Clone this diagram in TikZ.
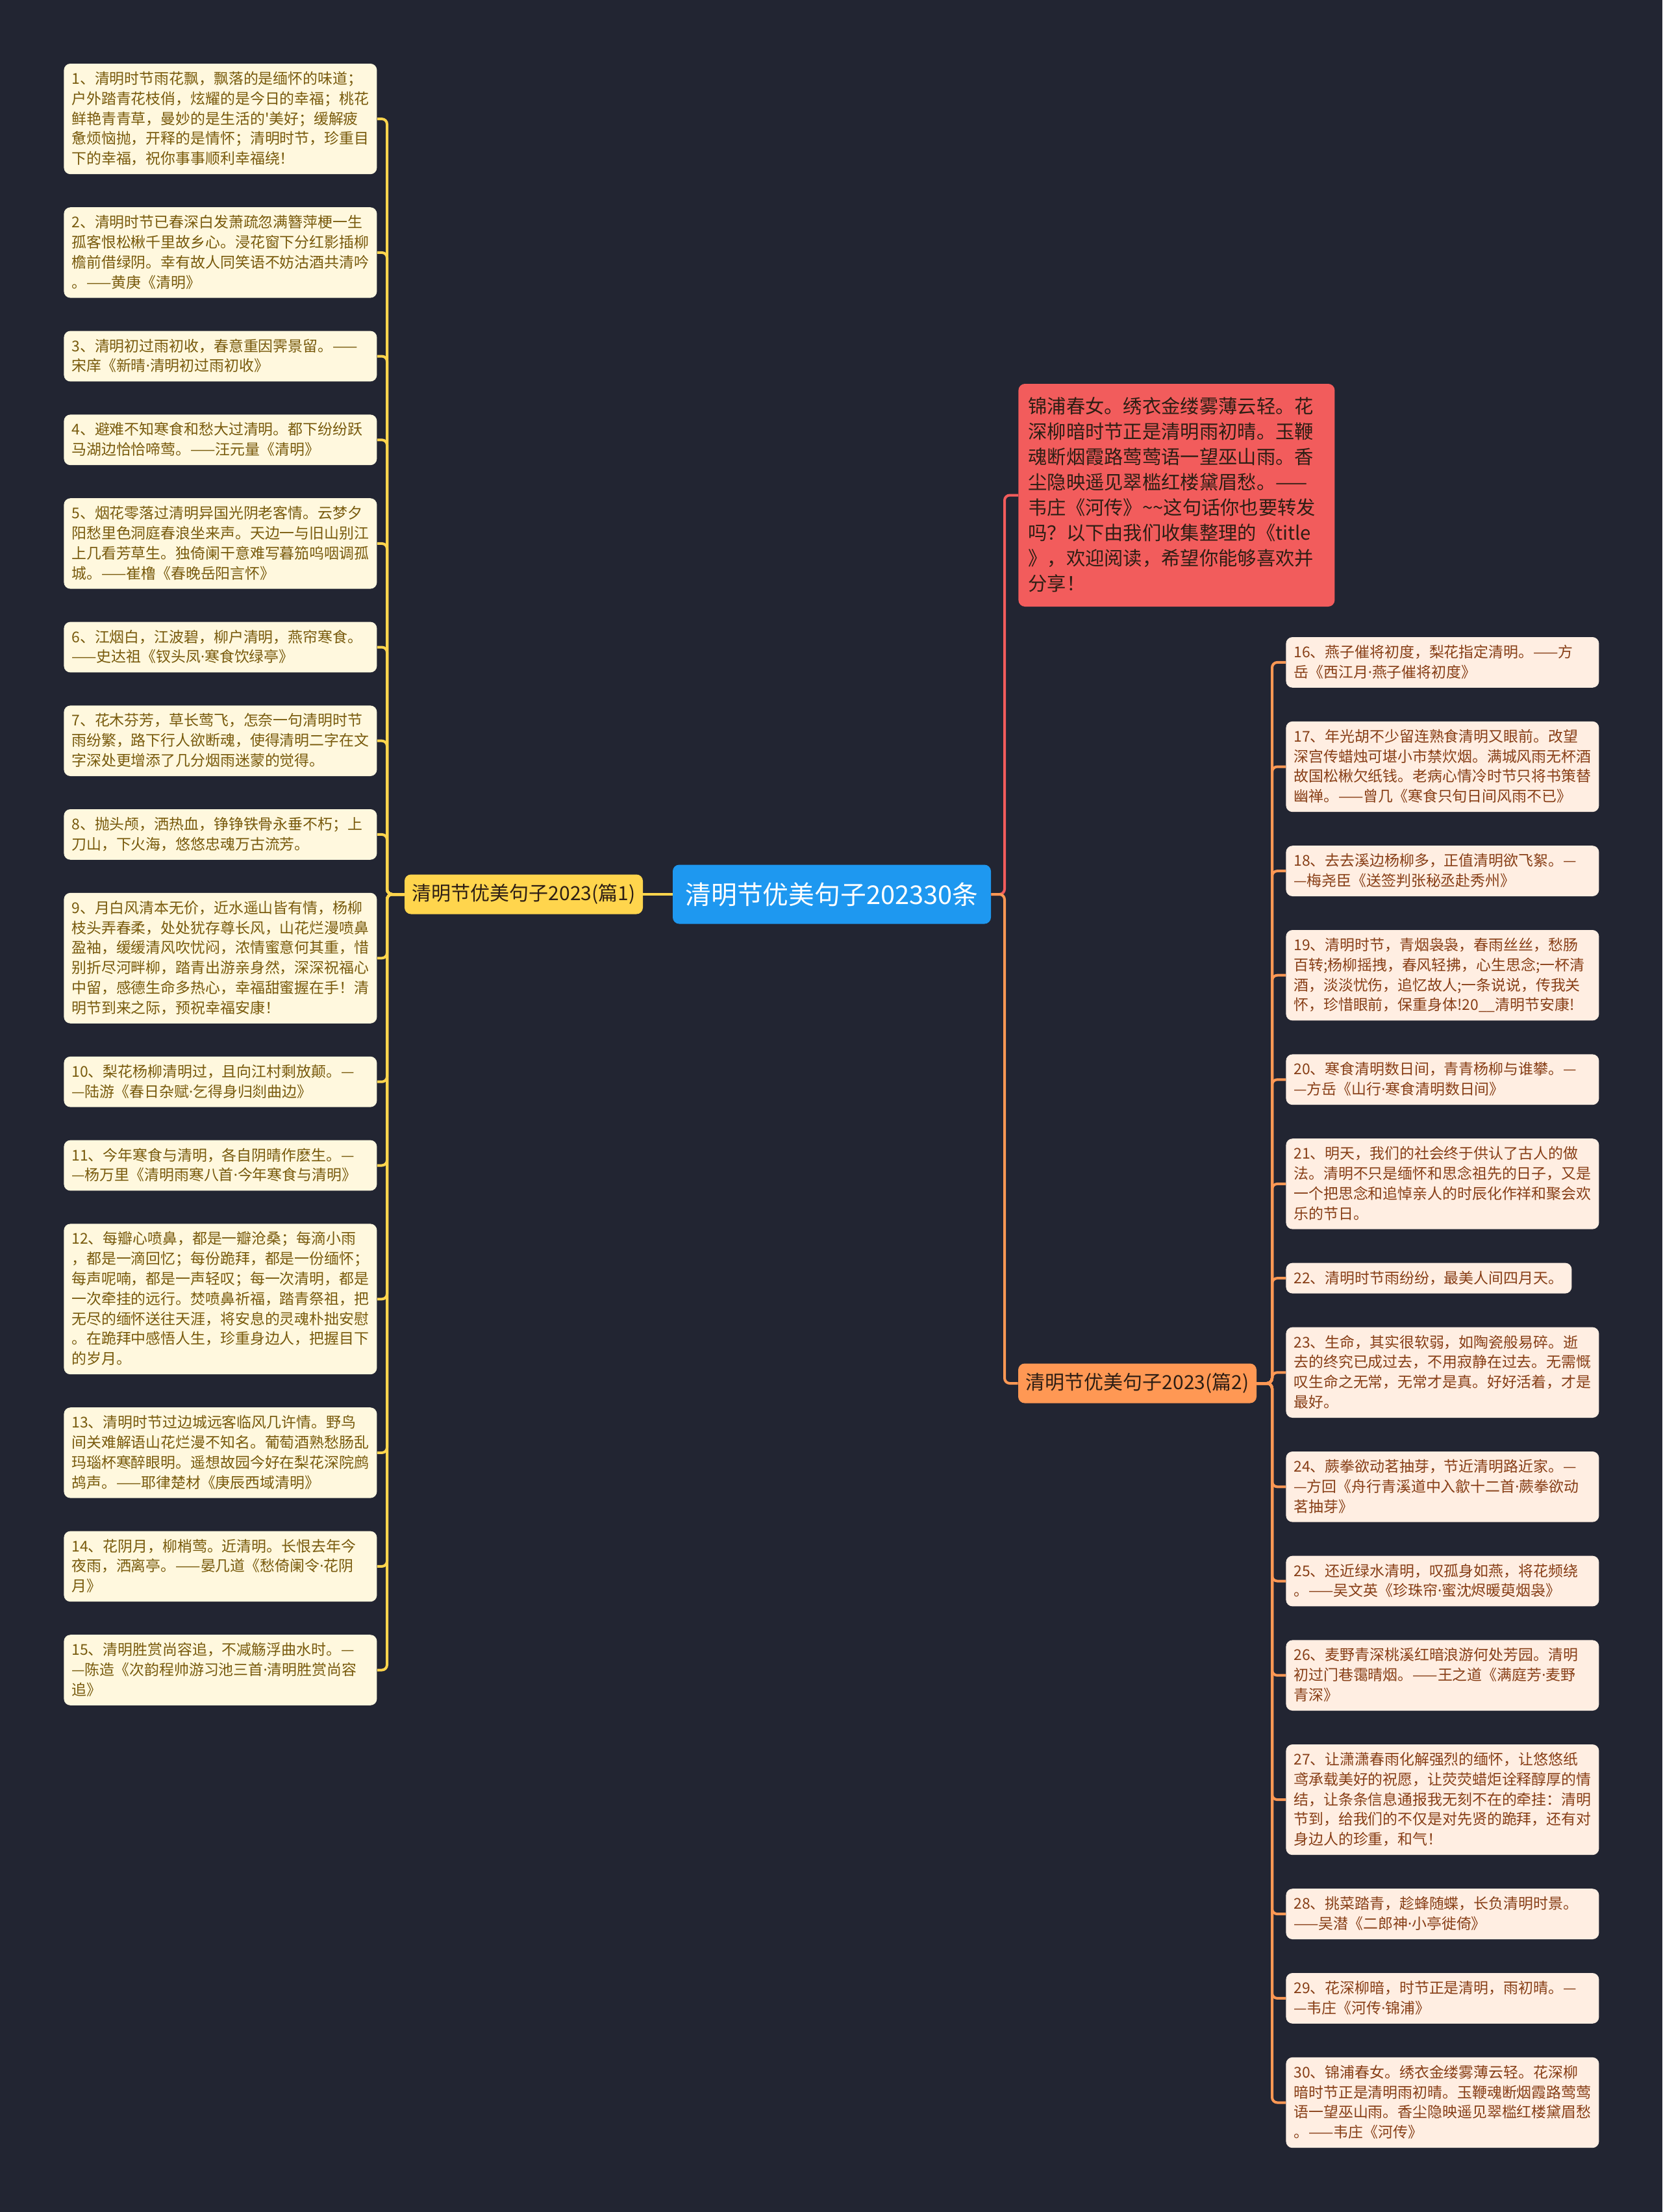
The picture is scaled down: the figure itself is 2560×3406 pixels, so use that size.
\documentclass[tikz,border=0pt]{standalone}
\usepackage{fontspec}
\setmainfont{Noto Sans CJK SC}
\newfontfamily\dotfont{Noto Sans}
\usepackage{tikz}
\usetikzlibrary{positioning}

\definecolor{bgnavy}{RGB}{34,37,50}
\definecolor{rootblue}{RGB}{30,152,240}
\definecolor{branchyellow}{RGB}{255,213,77}
\definecolor{branchorange}{RGB}{255,152,84}
\definecolor{introred}{RGB}{242,92,92}
\definecolor{leafcream}{RGB}{255,248,222}
\definecolor{leafpeach}{RGB}{255,238,226}
\definecolor{leafgold}{RGB}{120,90,12}
\definecolor{leafbrown}{RGB}{135,62,22}
\definecolor{darktext}{RGB}{45,30,20}

\newcommand{\leaffont}{\fontsize{11.45pt}{15.4pt}\selectfont}
\newcommand{\introfont}{\fontsize{14.65pt}{19.5pt}\selectfont}
\newcommand{\md}{{\dotfont ·}}

\tikzset{
  leaf/.style={rounded corners=5pt, align=left, anchor=west, inner xsep=6pt, inner ysep=5.75pt,
    text width=229pt, font=\leaffont,
    execute at begin node={\rule{0pt}{10pt}}, execute at end node={\rule[-2pt]{0pt}{2pt}}},
  leafl/.style={leaf, fill=leafcream, text=leafgold},
  leafr/.style={leaf, fill=leafpeach, text=leafbrown},
  branch/.style={rounded corners=5pt, minimum width=183.5pt, minimum height=30.5pt, inner sep=0pt,
    font=\fontsize{15pt}{18pt}\selectfont, text=darktext},
  link/.style={line width=2pt, rounded corners=4pt},
}

\begin{document}
\begin{tikzpicture}[x=0.5pt,y=-0.5pt]
    % background
    \fill[bgnavy] (0,0) rectangle (2560,3406);

    % root and branches
    \node[rounded corners=5pt, fill=rootblue, text=white, minimum width=245pt, minimum height=45.5pt,
          font=\fontsize{19.9pt}{24pt}\selectfont] (root) at (1281,1377) {清明节优美句子202330条};
    \node[branch, fill=branchyellow] (b1) at (806.5,1377) {清明节优美句子2023(篇1)};
    \node[branch, fill=branchorange] (b2) at (1751.5,2130) {清明节优美句子2023(篇2)};
    \node[rounded corners=5pt, fill=introred, text=darktext, anchor=west, align=left, text width=228.5pt,
          inner xsep=7.5pt, inner ysep=9.8pt, font=\introfont,
          execute at begin node={\rule{0pt}{12.8pt}}, execute at end node={\rule[-2.6pt]{0pt}{2.6pt}}]
          (intro) at (1568,762.5) {锦浦春女。绣衣金缕雾薄云轻。花\\深柳暗时节正是清明雨初晴。玉鞭\\魂断烟霞路莺莺语一望巫山雨。香\\尘隐映遥见翠槛红楼黛眉愁。——\\韦庄《河传》\textasciitilde\textasciitilde 这句话你也要转发\\吗？以下由我们收集整理的《title\\》，欢迎阅读，希望你能够喜欢并\\分享！};

    % left leaves
    \node[leafl] (l1) at (98,183.1) {1、清明时节雨花飘，飘落的是缅怀的味道；\\户外踏青花枝俏，炫耀的是今日的幸福；桃花\\鲜艳青青草，曼妙的是生活的\textquotesingle 美好；缓解疲\\惫烦恼抛，开释的是情怀；清明时节，珍重目\\下的幸福，祝你事事顺利幸福绕！};
    \node[leafl] (l2) at (98,388.9) {2、清明时节已春深白发萧疏忽满簪萍梗一生\\孤客恨松楸千里故乡心。浸花窗下分红影插柳\\檐前借绿阴。幸有故人同笑语不妨沽酒共清吟\\。——黄庚《清明》};
    \node[leafl] (l3) at (98,548.5) {3、清明初过雨初收，春意重因霁景留。——\\宋庠《新晴\md 清明初过雨初收》};
    \node[leafl] (l4) at (98,677.3) {4、避难不知寒食和愁大过清明。都下纷纷跃\\马湖边恰恰啼莺。——汪元量《清明》};
    \node[leafl] (l5) at (98,836.9) {5、烟花零落过清明异国光阴老客情。云梦夕\\阳愁里色洞庭春浪坐来声。天边一与旧山别江\\上几看芳草生。独倚阑干意难写暮笳呜咽调孤\\城。——崔橹《春晚岳阳言怀》};
    \node[leafl] (l6) at (98,996.5) {6、江烟白，江波碧，柳户清明，燕帘寒食。\\——史达祖《钗头凤\md 寒食饮绿亭》};
    \node[leafl] (l7) at (98,1140.7) {7、花木芬芳，草长莺飞，怎奈一句清明时节\\雨纷繁，路下行人欲断魂，使得清明二字在文\\字深处更增添了几分烟雨迷蒙的觉得。};
    \node[leafl] (l8) at (98,1284.9) {8、抛头颅，洒热血，铮铮铁骨永垂不朽；上\\刀山，下火海，悠悠忠魂万古流芳。};
    \node[leafl] (l9) at (98,1475.3) {9、月白风清本无价，近水遥山皆有情，杨柳\\枝头弄春柔，处处犹存尊长风，山花烂漫喷鼻\\盈袖，缓缓清风吹忧闷，浓情蜜意何其重，惜\\别折尽河畔柳，踏青出游亲身然，深深祝福心\\中留，感德生命多热心，幸福甜蜜握在手！清\\明节到来之际，预祝幸福安康！};
    \node[leafl] (l10) at (98,1665.7) {10、梨花杨柳清明过，且向江村剩放颠。—\\—陆游《春日杂赋\md 乞得身归剡曲边》};
    \node[leafl] (l11) at (98,1794.5) {11、今年寒食与清明，各自阴晴作麽生。—\\—杨万里《清明雨寒八首\md 今年寒食与清明》};
    \node[leafl] (l12) at (98,2000.3) {12、每瓣心喷鼻，都是一瓣沧桑；每滴小雨\\，都是一滴回忆；每份跪拜，都是一份缅怀；\\每声呢喃，都是一声轻叹；每一次清明，都是\\一次牵挂的远行。焚喷鼻祈福，踏青祭祖，把\\无尽的缅怀送往天涯，将安息的灵魂朴拙安慰\\。在跪拜中感悟人生，珍重身边人，把握目下\\的岁月。};
    \node[leafl] (l13) at (98,2236.9) {13、清明时节过边城远客临风几许情。野鸟\\间关难解语山花烂漫不知名。葡萄酒熟愁肠乱\\玛瑙杯寒醉眼明。遥想故园今好在梨花深院鹧\\鸪声。——耶律楚材《庚辰西域清明》};
    \node[leafl] (l14) at (98,2411.9) {14、花阴月，柳梢莺。近清明。长恨去年今\\夜雨，洒离亭。——晏几道《愁倚阑令\md 花阴\\月》};
    \node[leafl] (l15) at (98,2571.5) {15、清明胜赏尚容追，不减觞浮曲水时。—\\—陈造《次韵程帅游习池三首\md 清明胜赏尚容\\追》};

    % right leaves
    \node[leafr] (r16) at (1980,1019.9) {16、燕子催将初度，梨花指定清明。——方\\岳《西江月\md 燕子催将初度》};
    \node[leafr] (r17) at (1980,1180.5) {17、年光胡不少留连熟食清明又眼前。改望\\深宫传蜡烛可堪小市禁炊烟。满城风雨无杯酒\\故国松楸欠纸钱。老病心情冷时节只将书策替\\幽禅。——曾几《寒食只旬日间风雨不已》};
    \node[leafr] (r18) at (1980,1341.1) {18、去去溪边杨柳多，正值清明欲飞絮。—\\—梅尧臣《送签判张秘丞赴秀州》};
    \node[leafr] (r19) at (1980,1501.7) {19、清明时节，青烟袅袅，春雨丝丝，愁肠\\百转;杨柳摇拽，春风轻拂，心生思念;一杯清\\酒，淡淡忧伤，追忆故人;一条说说，传我关\\怀，珍惜眼前，保重身体!20\_\_清明节安康!};
    \node[leafr] (r20) at (1980,1662.3) {20、寒食清明数日间，青青杨柳与谁攀。—\\—方岳《山行\md 寒食清明数日间》};
    \node[leafr] (r21) at (1980,1822.9) {21、明天，我们的社会终于供认了古人的做\\法。清明不只是缅怀和思念祖先的日子，又是\\一个把思念和追悼亲人的时辰化作祥和聚会欢\\乐的节日。};
    \node[leafr, text width=208pt] (r22) at (1980,1968.1) {22、清明时节雨纷纷，最美人间四月天。};
    \node[leafr] (r23) at (1980,2113.3) {23、生命，其实很软弱，如陶瓷般易碎。逝\\去的终究已成过去，不用寂静在过去。无需慨\\叹生命之无常，无常才是真。好好活着，才是\\最好。};
    \node[leafr] (r24) at (1980,2289.3) {24、蕨拳欲动茗抽芽，节近清明路近家。—\\—方回《舟行青溪道中入歙十二首\md 蕨拳欲动\\茗抽芽》};
    \node[leafr] (r25) at (1980,2434.5) {25、还近绿水清明，叹孤身如燕，将花频绕\\。——吴文英《珍珠帘\md 蜜沈烬暖萸烟袅》};
    \node[leafr] (r26) at (1980,2579.7) {26、麦野青深桃溪红暗浪游何处芳园。清明\\初过门巷霭晴烟。——王之道《满庭芳\md 麦野\\青深》};
    \node[leafr] (r27) at (1980,2771.1) {27、让潇潇春雨化解强烈的缅怀，让悠悠纸\\鸢承载美好的祝愿，让荧荧蜡炬诠释醇厚的情\\结，让条条信息通报我无刻不在的牵挂：清明\\节到，给我们的不仅是对先贤的跪拜，还有对\\身边人的珍重，和气！};
    \node[leafr] (r28) at (1980,2947.1) {28、挑菜踏青，趁蜂随蝶，长负清明时景。\\——吴潜《二郎神\md 小亭徙倚》};
    \node[leafr] (r29) at (1980,3076.9) {29、花深柳暗，时节正是清明，雨初晴。—\\—韦庄《河传\md 锦浦》};
    \node[leafr] (r30) at (1980,3237.5) {30、锦浦春女。绣衣金缕雾薄云轻。花深柳\\暗时节正是清明雨初晴。玉鞭魂断烟霞路莺莺\\语一望巫山雨。香尘隐映遥见翠槛红楼黛眉愁\\。——韦庄《河传》};

    % connectors
    \coordinate (lsp) at (596,1377);
    \coordinate (rtr) at (1547,1377);
    \coordinate (rsp) at (1959,2130);
    \draw[link, branchyellow] (root.west) -- (b1.east);
    \foreach \i in {1,...,15} {
        \draw[link, branchyellow] (b1.west) -- (lsp) |- (l\i.east);
    }
    \draw[link, introred] (root.east) -- (rtr) |- (intro.west);
    \draw[link, branchorange] (root.east) -- (rtr) |- (b2.west);
    \foreach \i in {16,...,30} {
        \draw[link, branchorange] (b2.east) -- (rsp) |- (r\i.west);
    }
\end{tikzpicture}
\end{document}
